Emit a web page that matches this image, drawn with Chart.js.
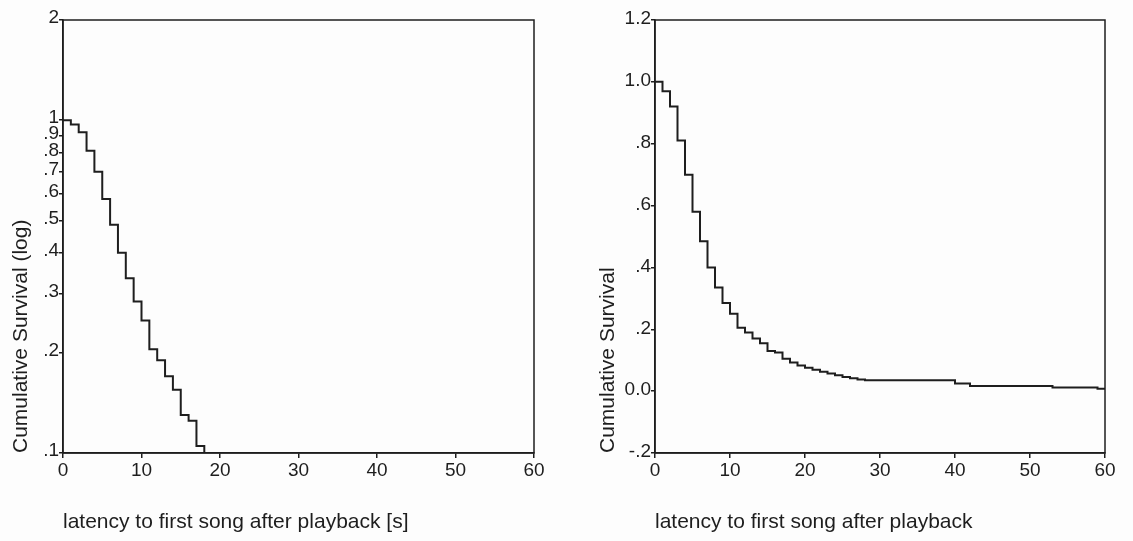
<!DOCTYPE html>
<html>
<head>
<meta charset="utf-8">
<script src="https://cdn.jsdelivr.net/npm/chart.js@4"></script>
<style>
  body{margin:0;background:#fdfdfd;}
  .box{position:absolute;top:0;height:541px;}
  #leftBox{left:0;width:590px;}
  #rightBox{left:590px;width:543px;}
</style>
</head>
<body>
<div class="box" id="leftBox"><canvas id="leftChart"></canvas></div>
<div class="box" id="rightBox"><canvas id="rightChart"></canvas></div>
<script>
// latency (s) at which the survival curve steps, and the survival value from there on
const times    = [0, 1, 2, 3, 4, 5, 6, 7, 8, 9, 10, 11, 12, 13, 14, 15, 16, 17, 18, 19, 20, 21, 22, 23, 24, 25, 26, 27, 28, 40, 42, 53, 59, 60]
const survival = [1.0, 0.97, 0.92, 0.81, 0.70, 0.58, 0.485, 0.40, 0.335, 0.285, 0.25, 0.205, 0.19, 0.17, 0.155, 0.13, 0.125, 0.105, 0.093, 0.083, 0.076, 0.069, 0.063, 0.057, 0.051, 0.046, 0.042, 0.038, 0.035, 0.025, 0.017, 0.012, 0.008, 0.008]

const logTicks = [2, 1, 0.9, 0.8, 0.7, 0.6, 0.5, 0.4, 0.3, 0.2, 0.1]
const linTicks = [1.2, 1.0, 0.8, 0.6, 0.4, 0.2, 0.0, -0.2]
const xTicks = [0, 10, 20, 30, 40, 50, 60]

const ink = "#1e1e1e"
const tickFont = {family: "'Liberation Sans', Arial, sans-serif", size: 19}
const titleFont = {family: "'Liberation Sans', Arial, sans-serif", size: 21}

let points = times.map((t, i) => ({x: t, y: survival[i]}))

// box round the plot area
const frame = {
  id: "frame",
  afterDatasetsDraw(chart){
    let a = chart.chartArea, ctx = chart.ctx
    ctx.save()
    ctx.strokeStyle = ink
    ctx.lineWidth = 1.5
    ctx.strokeRect(a.left, a.top, a.right - a.left, a.bottom - a.top)
    ctx.restore()
  }
}

function xScale(title){
  return {
    type: "linear",
    min: 0, max: 60,
    afterBuildTicks: s => { s.ticks = xTicks.map(v => ({value: v})) },
    afterFit: s => { s.height = 88 },
    grid: {drawOnChartArea: false, drawTicks: true, tickLength: 5, color: ink, lineWidth: 1.5},
    border: {display: true, color: ink, width: 1.5},
    ticks: {color: ink, font: tickFont, padding: 1, maxRotation: 0, autoSkip: false},
    title: {display: true, text: title, align: "start", color: ink, font: titleFont, padding: {top: 4, bottom: 6}}
  }
}

function yTitle(text, pad){
  return {display: true, text: text, align: "start", color: ink, font: titleFont, padding: {top: pad, bottom: 0}}
}

function fmtLog(v){
  if(v >= 1) return String(Math.round(v))
  return "." + Math.round(v * 10)
}
function fmtLin(v){
  v = Math.round(v * 10) / 10
  if(v === 0) return "0.0"
  if(v >= 1) return v.toFixed(1)
  return (v < 0 ? "-." : ".") + Math.round(Math.abs(v) * 10)
}

function lineSet(){
  return [{
    data: points,
    stepped: "before",
    borderColor: ink,
    borderWidth: 2,
    pointRadius: 0,
    fill: false
  }]
}

new Chart("leftChart", {
  type: "line",
  data: {datasets: lineSet()},
  options: {
    responsive: true,
    maintainAspectRatio: false,
    animation: false,
    layout: {padding: {left: 0, right: 56, top: 20, bottom: 0}},
    plugins: {legend: {display: false}, tooltip: {enabled: false}},
    scales: {
      x: xScale("latency to first song after playback [s]"),
      y: {
        type: "logarithmic",
        min: 0.1, max: 2,
        afterBuildTicks: s => { s.ticks = logTicks.map(v => ({value: v})) },
        afterFit: s => { s.width = 63 },
        grid: {drawOnChartArea: false, drawTicks: true, tickLength: 4, color: ink, lineWidth: 1.5},
        border: {display: true, color: ink, width: 1.5},
        ticks: {color: ink, font: tickFont, padding: 0, autoSkip: false, labelOffset: -2, callback: v => fmtLog(v)},
        title: yTitle("Cumulative Survival (log)", 9)
      }
    }
  },
  plugins: [frame]
})

new Chart("rightChart", {
  type: "line",
  data: {datasets: lineSet()},
  options: {
    responsive: true,
    maintainAspectRatio: false,
    animation: false,
    layout: {padding: {left: 0, right: 28, top: 20, bottom: 0}},
    plugins: {legend: {display: false}, tooltip: {enabled: false}},
    scales: {
      x: xScale("latency to first song after playback"),
      y: {
        type: "linear",
        min: -0.2, max: 1.2,
        afterBuildTicks: s => { s.ticks = linTicks.map(v => ({value: v})) },
        afterFit: s => { s.width = 65 },
        grid: {drawOnChartArea: false, drawTicks: true, tickLength: 4, color: ink, lineWidth: 1.5},
        border: {display: true, color: ink, width: 1.5},
        ticks: {color: ink, font: tickFont, padding: 0, autoSkip: false, labelOffset: -1, callback: v => fmtLin(v)},
        title: yTitle("Cumulative Survival", 6)
      }
    }
  },
  plugins: [frame]
})
</script>
</body>
</html>
